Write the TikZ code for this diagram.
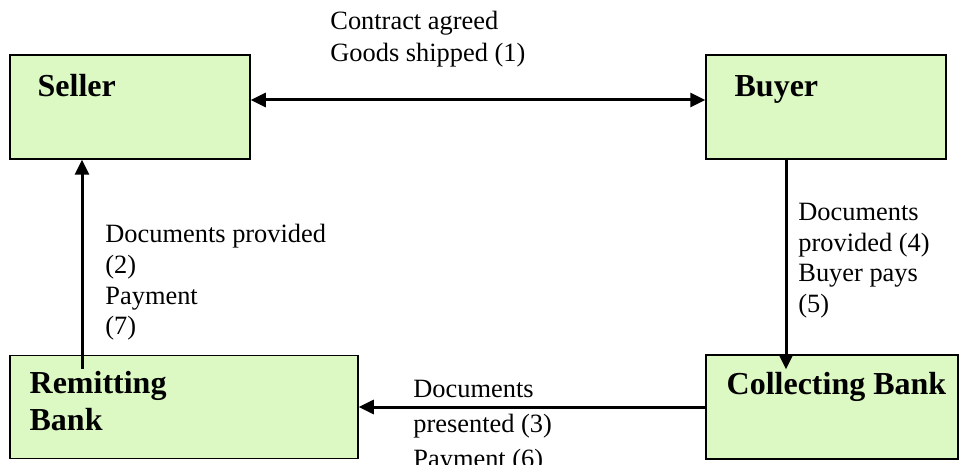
\documentclass[tikz,border=0pt]{standalone}
\usepackage{fontspec}
\setmainfont{Liberation Serif}
\usepackage{xcolor}
\usepackage{tikz}
\usetikzlibrary{math,arrows.meta}
\definecolor{boxgreen}{RGB}{220,248,195}

\begin{document}
\begin{tikzpicture}[x=0.5pt,y=-0.5pt,
	box/.style={draw,line width=0.75pt,fill=boxgreen,minimum height=52pt,inner sep=0pt},
	party/.style={anchor=base west,inner sep=0pt,align=left,font=\fontsize{16pt}{18.5pt}\selectfont\bfseries},
	txt/.style={anchor=base west,inner sep=0pt,align=left,font=\fontsize{13.2pt}{#1}\selectfont},
	flow/.style={line width=1.5pt,>={Triangle[length=7.5pt,width=7pt]}}]
\useasboundingbox (0,0) rectangle (960,465);
\tikzmath{
	\ya = 107;\yb = 407;
	{\node[box,minimum width=120pt] (seller) at (130,\ya) {};};
	{\node[box,minimum width=120pt] (buyer) at (826,\ya) {};};
	{\node[box,minimum width=174pt,minimum height=51.5pt] (remitting) at (184,\yb) {};};
	{\node[box,minimum width=126pt] (collecting) at (832,\yb) {};};
	{\path (seller.north west) ++(28,42) node[party] (sellername) {Seller};};
	{\path (buyer.north west) ++(29,42) node[party] (buyername) {Buyer};};
	{\path (remitting.north west) ++(20,76) node[party] (remittingname) {Remitting\\Bank};};%last line
	{\path (collecting.north west) ++(21,40) node[party] (collectingname) {Collecting Bank};};
	%
	{\node[txt=16pt] (shipped) at (330,62) {Contract agreed\\Goods shipped (1)};};
	{\node[txt=15.35pt] (provided) at (105,335) {Documents provided\\(2)\\Payment\\(7)};};
	{\node[txt=15.5pt] (pays) at (798,313) {Documents\\provided (4)\\Buyer pays\\(5)};};
	{\node[txt=17.5pt] (presented) at (413,467) {Documents\\presented (3)\\Payment (6)};};
	%
	{\draw[flow,<->] ([yshift=3.5pt]seller.east) -- ([yshift=3.5pt]buyer.west);};
	{\draw[flow,->] ([xshift=-51pt,yshift=-7pt]remitting.north) -- ([xshift=-24pt]seller.south);};
	{\draw[flow,->] ([xshift=-20pt,yshift=1pt]buyer.south) -- ([xshift=-23pt,yshift=-7.5pt]collecting.north);};
	{\draw[flow,->] (collecting.west) -- (remitting.east);};
};
\end{tikzpicture}
\end{document}
